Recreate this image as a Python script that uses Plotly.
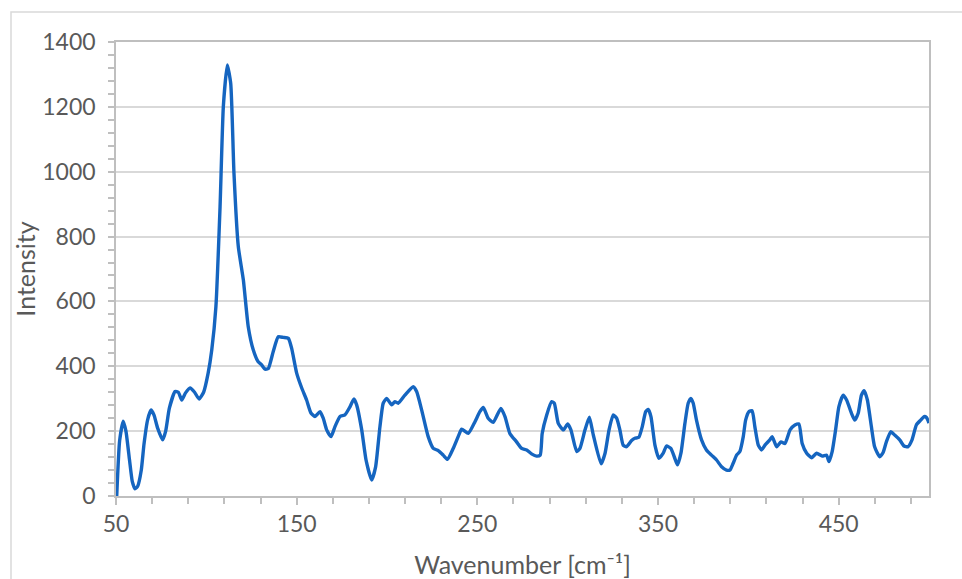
import plotly.graph_objects as go

wavenumber = [50.4, 52, 54, 55.5, 57.5, 59, 60.5, 62, 64, 65.5, 67.5, 69.4, 71, 73, 75.8, 77.5, 79.5,
              82.7, 84.5, 86.4, 88.5, 91, 93.5, 96, 98.5, 101, 103, 105.3, 107.6, 109.4, 111.6, 113.5,
              115.3, 117.7, 120.5, 123.2, 126, 128.7, 130.5, 132.5, 134.3, 137, 139.8, 142.6, 145.4,
              147.2, 150, 152.8, 155.5, 157.9, 160.1, 162.9, 164.7, 166.6, 169, 171.2, 174, 176.7,
              179.5, 181.7, 183.2, 186, 188.4, 191.5, 193.7, 196.1, 197.9, 199.8, 202.6, 204.4, 206.2,
              209.9, 214.5, 216.4, 219.2, 222.8, 225.6, 228.4, 231.1, 233.5, 236.7, 239.4, 241.3, 245,
              248.7, 251.4, 253.3, 256, 258.8, 263, 265.3, 268, 271.7, 274.5, 277.3, 280, 282.8, 284.8,
              285.9, 288.4, 291.1, 292.6, 294.8, 297.6, 300, 301.8, 305, 306.8, 309.6, 312, 314.2,
              318.5, 320.7, 322.9, 325.2, 327.1, 328.9, 330.7, 332.6, 335.4, 337.2, 339.4, 341.3,
              343.2, 344.6, 346.1, 348.3, 350.5, 352.9, 354.7, 357.1, 359, 360.8, 362.7, 364.9, 366.7,
              368.2, 369.5, 371.3, 374.1, 376.8, 379.6, 382.4, 385.2, 387.9, 389.8, 391.6, 393.5,
              395.3, 397.2, 398.5, 400.3, 402.1, 403.6, 405.5, 407.3, 409.2, 411.9, 413.2, 415.7,
              418.1, 420.3, 423.1, 425.8, 428, 429.8, 432.3, 435, 437.8, 440.9, 443.3, 444.6, 446.4,
              448.3, 450.1, 452.5, 454.4, 457.1, 458.9, 460.8, 462.6, 464.1, 465.9, 468.1, 469.9,
              472.7, 474.6, 476.4, 478.8, 481, 483.8, 486.2, 488.4, 490.6, 493, 495.4, 497.3, 498.6, 500]

intensity = [0, 170, 231, 200, 110, 45, 22, 30, 80, 160, 235, 265, 250, 210, 173, 200, 270,
             322, 320, 296, 318, 333, 320, 299, 320, 379, 450, 584, 892, 1200, 1329, 1272,
             995, 769, 666, 522, 450, 414, 405, 391, 393, 445, 491, 489, 486,
             456, 379, 333, 296, 256, 245, 260, 240, 204, 183, 214, 245, 250,
             275, 299, 281, 204, 111, 49, 90, 214, 286, 301, 281, 291, 286,
             311, 337, 322, 265, 183, 147, 140, 126, 113, 147, 183, 206, 193,
             229, 260, 273, 240, 227, 270, 245, 193, 167, 147, 142, 130, 123, 126,
             193, 250, 291, 286, 224, 204, 222, 204, 137, 147, 204, 243, 188,
             99, 132, 204, 250, 240, 204, 157, 152, 171, 178, 181, 214,
             260, 267, 245, 157, 116, 132, 154, 147, 121, 96, 132, 224, 286,
             301, 286, 234, 173, 142, 126, 111, 90, 80, 80, 101, 126,
             137, 183, 234, 260, 263, 214, 157, 142, 157, 173, 183, 152,
             167, 162, 204, 219, 222, 162, 132, 118, 132, 123, 126, 106, 137,
             204, 275, 311, 296, 255, 234, 255, 311, 325, 296, 214, 152,
             121, 134, 167, 198, 188, 173, 154, 152, 173, 219, 234, 245, 242, 225]

x_ticks = [50, 150, 250, 350, 450]
y_ticks = [0, 200, 400, 600, 800, 1000, 1200, 1400]

FONT = "Lato"
TXT = "#595959"
AX = "#BFBFBF"
GRID = "#D9D9D9"

fig = go.Figure(go.Scatter(
    x=wavenumber, y=intensity, mode="lines",
    line=dict(color="#1565C0", width=3.4, shape="spline", smoothing=0.5),
    showlegend=False, hoverinfo="x+y"))

L, R, T, B = 116, 33, 42, 83
W, H = 962, 579
pw, ph = W - L - R, H - T - B

def px_to_paper(px, py):
    return (px - L) / pw, (H - B - py) / ph

x0, y0 = px_to_paper(11, 12)
x1, y1 = px_to_paper(990, 600)

fig.update_layout(
    width=W, height=H,
    margin=dict(l=L, r=R, t=T, b=B, autoexpand=False),
    paper_bgcolor="white", plot_bgcolor="white",
    font=dict(family=FONT, size=22, color=TXT),
    xaxis=dict(
        range=[50, 500], tickvals=x_ticks, ticktext=[str(v) for v in x_ticks],
        showgrid=False, zeroline=False, automargin=False,
        showline=True, linecolor=AX, linewidth=1.5, mirror=True,
        ticks="outside", ticklen=7, tickcolor=AX, tickwidth=1.5,
        minor=dict(tick0=50, dtick=20, ticks="outside", ticklen=6, tickcolor=AX, tickwidth=1.5, showgrid=False),
        tickfont=dict(family=FONT, size=23, color=TXT),
        ticklabelstandoff=0,
        title=dict(text="Wavenumber [cm⁻¹]", font=dict(family=FONT, size=25, color=TXT), standoff=21),
    ),
    yaxis=dict(
        range=[0, 1400], tickvals=y_ticks, ticktext=[str(v) for v in y_ticks],
        showgrid=True, gridcolor=GRID, gridwidth=1.5, zeroline=False, automargin=False,
        showline=True, linecolor=AX, linewidth=1.5, mirror=True,
        ticks="outside", ticklen=6, tickcolor=AX, tickwidth=1.5,
        minor=dict(dtick=40, ticks="outside", ticklen=6, tickcolor=AX, tickwidth=1.5, showgrid=False),
        tickfont=dict(family=FONT, size=23, color=TXT),
        ticklabelstandoff=8,
        title=dict(text="Intensity", font=dict(family=FONT, size=25, color=TXT), standoff=0),
    ),
    shapes=[dict(type="rect", xref="paper", yref="paper", x0=x0, y0=y1, x1=x1, y1=y0,
                 line=dict(color="#D9D9D9", width=1.5), fillcolor="rgba(0,0,0,0)", layer="below")],
)

fig.write_html("out.html")
